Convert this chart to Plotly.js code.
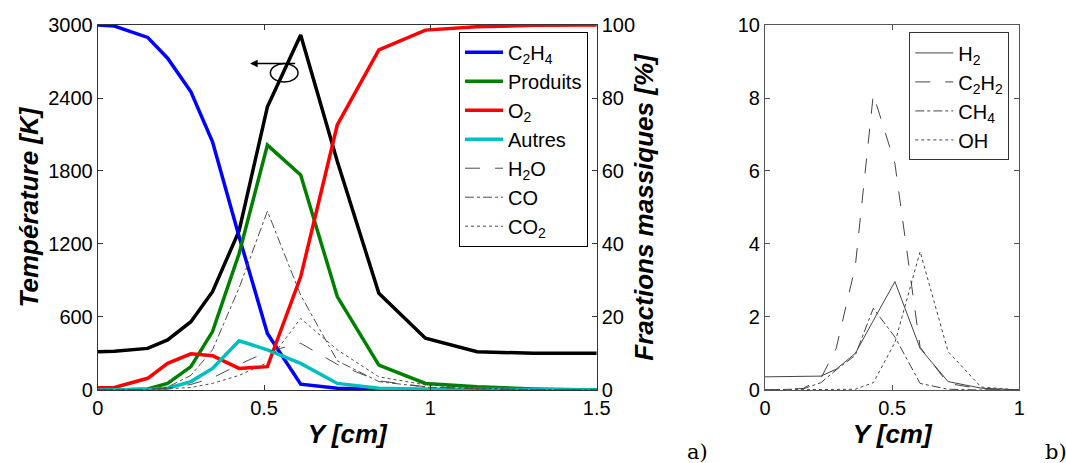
<!DOCTYPE html>
<html>
<head>
<meta charset="utf-8">
<script src="https://cdn.plot.ly/plotly-3.0.1.min.js"></script>
<style>html,body{margin:0;padding:0;background:#fff;}#chart{width:1066px;height:463px;}</style>
</head>
<body>
<div id="chart"></div>
<script>
// ---- Panel a) data ----
const yPos = [0, 0.05, 0.15, 0.21, 0.28, 0.345, 0.425, 0.51, 0.61, 0.72, 0.845, 0.985, 1.14, 1.31, 1.5];
const temperature = [315, 318, 342, 411, 561, 808, 1310, 2328, 2917, 1880, 795, 425, 315, 301, 301];
const c2h4 = [100, 99.7, 96.6, 90.9, 81.7, 68.0, 42, 15.5, 1.6, 0.5, 0.2, 0, 0, 0, 0];
const produits = [0, 0, 0.3, 1.8, 6.4, 16, 37.4, 67.1, 58.9, 25.6, 6.8, 1.8, 0.9, 0.3, 0];
const o2 = [0.6, 0.7, 3.2, 7.3, 9.9, 9.4, 5.9, 6.4, 31, 72.6, 93.2, 98.6, 99.5, 99.9, 100];
const autres = [0, 0, 0.1, 0.5, 2.3, 5.9, 13.5, 11, 7.3, 1.8, 0.5, 0.2, 0.1, 0, 0];
const h2o = [0, 0, 0.1, 0.5, 1.5, 3.3, 7, 10.5, 12.8, 7, 2.5, 0.9, 0.3, 0.1, 0];
const co = [0, 0, 0.1, 0.8, 4, 11, 28, 49, 26, 8, 2.3, 0.8, 0.3, 0.1, 0];
const co2 = [0, 0, 0, 0.3, 0.7, 1.8, 4, 7.5, 19.6, 11, 3.6, 1.4, 0.5, 0.1, 0];

// ---- Panel b) data ----
const yPosB = [0, 0.15, 0.22, 0.28, 0.355, 0.426, 0.511, 0.61, 0.72, 0.85, 1];
const h2 = [0.36, 0.37, 0.38, 0.57, 1.0, 1.9, 2.97, 1.14, 0.23, 0.05, 0];
const c2h2 = [0, 0.04, 0.32, 1.14, 3.38, 8.1, 6.2, 1.17, 0.18, 0.03, 0];
const ch4 = [0, 0.03, 0.2, 0.55, 0.95, 2.24, 1.45, 0.18, 0.02, 0, 0];
const oh = [0, 0, 0, 0, 0.02, 0.2, 1.3, 3.79, 1.05, 0.08, 0];

const tickVals1 = [0, 600, 1200, 1800, 2400, 3000];
const tickVals2 = [0, 20, 40, 60, 80, 100];
const tickValsX = [0, 0.5, 1, 1.5];
const tickValsB = [0, 2, 4, 6, 8, 10];
const tickValsXB = [0, 0.5, 1];

const SANS = 'Liberation Sans, Arial, sans-serif';
const thick = 3.5, thin = 1;

function tr(x, y, name, color, width, dash, yaxis, xaxis, legend, show) {
  return {x: x, y: y, name: name, type: 'scatter', mode: 'lines',
    line: {color: color, width: width, dash: dash || 'solid'},
    xaxis: xaxis || 'x', yaxis: yaxis || 'y2', legend: legend || 'legend',
    showlegend: show !== false, hoverinfo: 'skip'};
}

const data = [
  tr(yPos, temperature, 'T', '#000000', thick, 'solid', 'y', 'x', 'legend', false),
  tr(yPos, c2h4, 'C<sub>2</sub>H<sub>4</sub>', '#0000ff', thick),
  tr(yPos, produits, 'Produits', '#008000', thick),
  tr(yPos, o2, 'O<sub>2</sub>', '#ff0000', thick),
  tr(yPos, autres, 'Autres', '#00bfbf', thick),
  tr(yPos, h2o, 'H<sub>2</sub>O', '#4d4d4d', thin, 'longdash'),
  tr(yPos, co, 'CO', '#4d4d4d', thin, 'dashdot'),
  tr(yPos, co2, 'CO<sub>2</sub>', '#4d4d4d', thin, 'dot'),
  tr(yPosB, h2, 'H<sub>2</sub>', '#444444', thin, 'solid', 'y3', 'x2', 'legend2'),
  tr(yPosB, c2h2, 'C<sub>2</sub>H<sub>2</sub>', '#444444', thin, 'longdash', 'y3', 'x2', 'legend2'),
  tr(yPosB, ch4, 'CH<sub>4</sub>', '#444444', thin, 'dashdot', 'y3', 'x2', 'legend2'),
  tr(yPosB, oh, 'OH', '#444444', thin, 'dot', 'y3', 'x2', 'legend2')
];

const axisBase = {
  showline: true, linecolor: '#333', linewidth: 1, ticks: 'inside', ticklen: 5,
  tickcolor: '#333', showgrid: false, zeroline: false,
  tickfont: {family: SANS, size: 20, color: '#000'}, fixedrange: true
};
const titleFont = {family: SANS, size: 26, color: '#000', weight: 'bold', style: 'italic'};

const layout = {
  width: 1066, height: 463,
  margin: {l: 0, r: 0, t: 0, b: 0},
  paper_bgcolor: '#fff', plot_bgcolor: '#fff',
  font: {family: SANS, color: '#000'},
  xaxis: Object.assign({}, axisBase, {domain: [0.0917, 0.5598], range: [0, 1.5], tickvals: tickValsX,
    ticktext: ['0', '0.5', '1', '1.5'], mirror: 'ticks', anchor: 'y',
    title: {text: 'Y [cm]', font: titleFont, standoff: 6}}),
  yaxis: Object.assign({}, axisBase, {domain: [0.1577, 0.946], range: [0, 3000], tickvals: tickVals1,
    mirror: true, anchor: 'x',
    title: {text: 'Température [K]', font: titleFont, standoff: 2}}),
  yaxis2: Object.assign({}, axisBase, {overlaying: 'y', side: 'right', anchor: 'x', range: [0, 100], tickvals: tickVals2,
    title: {text: 'Fractions massiques [%]', font: titleFont, standoff: 0}}),
  xaxis2: Object.assign({}, axisBase, {domain: [0.7176, 0.9562], range: [0, 1], tickvals: tickValsXB,
    ticktext: ['0', '0.5', '1'], mirror: 'ticks', anchor: 'y3', linecolor: '#555', tickcolor: '#555',
    title: {text: 'Y [cm]', font: titleFont, standoff: 6}}),
  yaxis3: Object.assign({}, axisBase, {domain: [0.1577, 0.946], range: [0, 10], tickvals: tickValsB,
    mirror: 'ticks', anchor: 'x2', linecolor: '#555', tickcolor: '#555'}),
  legend: {x: 0.4306, y: 0.9315, xanchor: 'left', yanchor: 'top', bgcolor: '#fff',
    bordercolor: '#000', borderwidth: 1, font: {family: SANS, size: 20, color: '#000'},
    itemwidth: 38, tracegroupgap: 0},
  legend2: {x: 0.853, y: 0.930, xanchor: 'left', yanchor: 'top', bgcolor: '#fff',
    bordercolor: '#333', borderwidth: 1, font: {family: SANS, size: 20, color: '#000'},
    itemwidth: 38, tracegroupgap: 0},
  shapes: [
    {type: 'circle', xref: 'x', yref: 'y', x0: 0.519, x1: 0.602, y0: 2531, y1: 2683,
     line: {color: '#000', width: 1.5}, fillcolor: 'rgba(0,0,0,0)', layer: 'above'}
  ],
  annotations: [
    {xref: 'x', yref: 'y', x: 0.458, y: 2684, axref: 'x', ayref: 'y', ax: 0.598, ay: 2684,
     text: '', showarrow: true, arrowhead: 2, arrowsize: 1, arrowwidth: 1.5, arrowcolor: '#000'},
    {xref: 'paper', yref: 'paper', x: 0.654, y: 0.024, xanchor: 'center', yanchor: 'middle',
     text: 'a)', showarrow: false, font: {family: 'DejaVu Serif, Liberation Serif, serif', size: 21, color: '#000'}},
    {xref: 'paper', yref: 'paper', x: 0.9784, y: 0.024, xanchor: 'left', yanchor: 'middle',
     text: 'b)', showarrow: false, font: {family: 'DejaVu Serif, Liberation Serif, serif', size: 21, color: '#000'}}
  ]
};

Plotly.newPlot('chart', data, layout, {staticPlot: true, displayModeBar: false});
</script>
</body>
</html>
